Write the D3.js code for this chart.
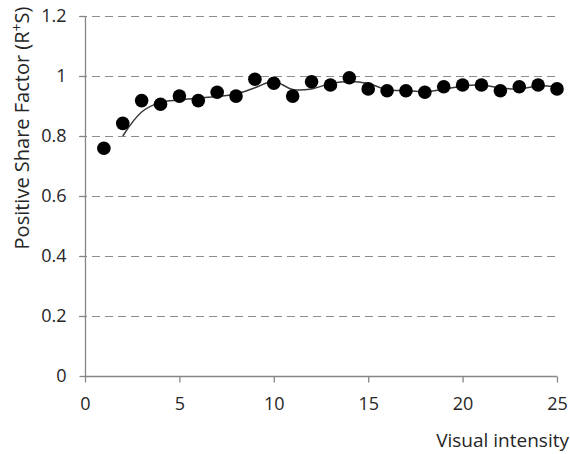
<!DOCTYPE html>
<html><head><meta charset="utf-8">
<script src="https://cdn.jsdelivr.net/npm/d3@7"></script>
<style>body{margin:0;background:#fff}svg{display:block}text{font-family:"Open Sans","DejaVu Sans",sans-serif}</style>
</head><body>
<svg id="c" width="570" height="454"></svg>
<script>
const xValues = [1,2,3,4,5,6,7,8,9,10,11,12,13,14,15,16,17,18,19,20,21,22,23,24,25];
const yValues = [0.759,0.842,0.918,0.906,0.933,0.918,0.946,0.933,0.989,0.976,0.933,0.981,0.970,0.994,0.957,0.951,0.951,0.946,0.964,0.970,0.970,0.951,0.964,0.970,0.957];
const trendX = [2,3,4,5,6,7,8,9,10,11,12,13,14,15,16,17,18,19,20,21,22,23,24,25];
const trendY = [0.800,0.880,0.912,0.920,0.926,0.932,0.940,0.961,0.982,0.955,0.957,0.975,0.982,0.975,0.954,0.951,0.948,0.955,0.967,0.970,0.960,0.957,0.967,0.963];
const xTicks = [0,5,10,15,20,25];
const yTicks = [0,0.2,0.4,0.6,0.8,1,1.2];

const svg = d3.select("#c");
const x = d3.scaleLinear().domain([0,25]).range([85,557]);
const y = d3.scaleLinear().domain([0,1.2]).range([376,16]);

// gridlines
svg.append("g").selectAll("line").data(yTicks.filter(d=>d>0)).join("line")
  .attr("x1",79).attr("x2",557).attr("y1",d=>y(d)+0.5).attr("y2",d=>y(d)+0.5)
  .attr("stroke","#8c8c8c").attr("stroke-width",1).attr("stroke-dasharray","8,5");

// y axis
const ya = svg.append("g").attr("transform","translate(85.5,0)")
  .call(d3.axisLeft(y).tickValues(yTicks).tickFormat(d=>d===0?"0":d3.format("")(d)).tickSize(6).tickPadding(13));
// x axis
const xa = svg.append("g").attr("transform","translate(0,376.5)")
  .call(d3.axisBottom(x).tickValues(xTicks).tickSize(6).tickPadding(15));
[ya,xa].forEach(a=>{
  a.selectAll("path,line").attr("stroke","#868686").attr("stroke-width",1.3);
  a.selectAll("text").attr("fill","#262626").attr("font-size","18px");
});
ya.select(".domain").attr("d","M0,376V16");
xa.select(".domain").attr("d","M85,0H557");

// trend line
const line = d3.line().x((d,i)=>x(trendX[i])).y(d=>y(d)).curve(d3.curveCatmullRom);
svg.append("path").datum(trendY).attr("d",line).attr("fill","none")
  .attr("stroke","#3a3a3a").attr("stroke-width",1.5);

// points
svg.append("g").selectAll("circle").data(yValues).join("circle")
  .attr("cx",(d,i)=>x(xValues[i])).attr("cy",d=>y(d)).attr("r",6.8).attr("fill","#000");

// titles
svg.append("text").attr("x",569).attr("y",447).attr("text-anchor","end")
  .attr("font-size","19px").attr("fill","#262626").text("Visual intensity");
const yt = svg.append("text").attr("transform","translate(29,128) rotate(-90)")
  .attr("text-anchor","middle").attr("font-size","20px").attr("fill","#262626");
yt.append("tspan").text("Positive Share Factor (R");
yt.append("tspan").attr("font-size","14px").attr("dy","-7").text("+");
yt.append("tspan").attr("dy","7").text("S)");
</script>
</body></html>
